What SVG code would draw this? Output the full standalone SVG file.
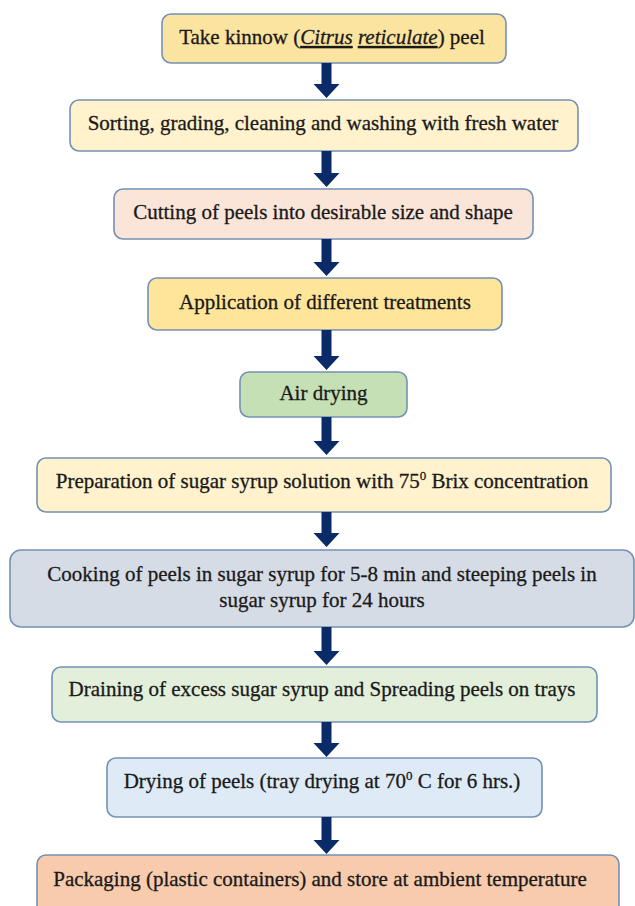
<svg xmlns="http://www.w3.org/2000/svg" width="635" height="906" viewBox="0 0 635 906">
<style>
.box{stroke:#7491b4;stroke-width:1.6}
.t{font-family:"Liberation Serif","Times New Roman",serif;font-size:21px;fill:#1a1a1a;stroke:#1a1a1a;stroke-width:0.3;text-anchor:middle}
.sup{font-size:13px}
.arr{fill:#0b2a68}
</style>
<rect width="635" height="906" fill="#ffffff"/>
<g id="n1"><rect class="box" x="162" y="14" width="344" height="49" rx="9" fill="#fbe3a0"/>
<text class="t" x="332" y="44">Take kinnow (<tspan font-style="italic" text-decoration="underline">Citrus</tspan> <tspan font-style="italic" text-decoration="underline">reticulate</tspan>) peel</text></g>
<g id="n2"><rect class="box" x="70" y="100" width="508" height="51" rx="9" fill="#fff2cd"/>
<text class="t" x="323" y="130">Sorting, grading, cleaning and washing with fresh water</text></g>
<g id="n3"><rect class="box" x="114" y="189" width="419" height="50" rx="9" fill="#fbe5d8"/>
<text class="t" x="323" y="219">Cutting of peels into desirable size and shape</text></g>
<g id="n4"><rect class="box" x="148" y="278" width="354" height="52" rx="9" fill="#ffe599"/>
<text class="t" x="325" y="309">Application of different treatments</text></g>
<g id="n5"><rect class="box" x="240" y="372" width="167" height="45" rx="9" fill="#c6e0b5"/>
<text class="t" x="323.5" y="400">Air drying</text></g>
<g id="n6"><rect class="box" x="37" y="458" width="574" height="54" rx="9" fill="#fff2cd"/>
<text class="t" x="322" y="488">Preparation of sugar syrup solution with 75<tspan class="sup" dy="-8">0</tspan><tspan dy="8"> Brix concentration</tspan></text></g>
<g id="n7"><rect class="box" x="10" y="550" width="624" height="77" rx="11" fill="#d6dce6"/>
<text class="t" x="322" y="581">Cooking of peels in sugar syrup for 5-8 min and steeping peels in</text>
<text class="t" x="322" y="607">sugar syrup for 24 hours</text></g>
<g id="n8"><rect class="box" x="52" y="667" width="545" height="55" rx="9" fill="#e2efda"/>
<text class="t" x="322" y="696">Draining of excess sugar syrup and Spreading peels on trays</text></g>
<g id="n9"><rect class="box" x="107" y="758" width="435" height="59" rx="9" fill="#deebf7"/>
<text class="t" x="322" y="788">Drying of peels (tray drying at 70<tspan class="sup" dy="-8">0</tspan><tspan dy="8"> C for 6 hrs.)</tspan></text></g>
<g id="n10"><rect class="box" x="37" y="855" width="582" height="70" rx="9" fill="#f8cbad"/>
<text class="t" x="320" y="886">Packaging (plastic containers) and store at ambient temperature</text></g>
<g id="connectors">
<polygon class="arr" points="321.5,63 331.5,63 331.5,84 339.5,84 326.5,98 313.5,84 321.5,84"/>
<polygon class="arr" points="321.5,151 331.5,151 331.5,173 339.5,173 326.5,187 313.5,173 321.5,173"/>
<polygon class="arr" points="321.5,239 331.5,239 331.5,262 339.5,262 326.5,276 313.5,262 321.5,262"/>
<polygon class="arr" points="321.5,330 331.5,330 331.5,356 339.5,356 326.5,370 313.5,356 321.5,356"/>
<polygon class="arr" points="321.5,417 331.5,417 331.5,441 339.5,441 326.5,455 313.5,441 321.5,441"/>
<polygon class="arr" points="321.5,512 331.5,512 331.5,533 339.5,533 326.5,547 313.5,533 321.5,533"/>
<polygon class="arr" points="321.5,627 331.5,627 331.5,651 339.5,651 326.5,665 313.5,651 321.5,651"/>
<polygon class="arr" points="321.5,722 331.5,722 331.5,743 339.5,743 326.5,757 313.5,743 321.5,743"/>
<polygon class="arr" points="321.5,817 331.5,817 331.5,840 339.5,840 326.5,854 313.5,840 321.5,840"/>
</g>
</svg>
